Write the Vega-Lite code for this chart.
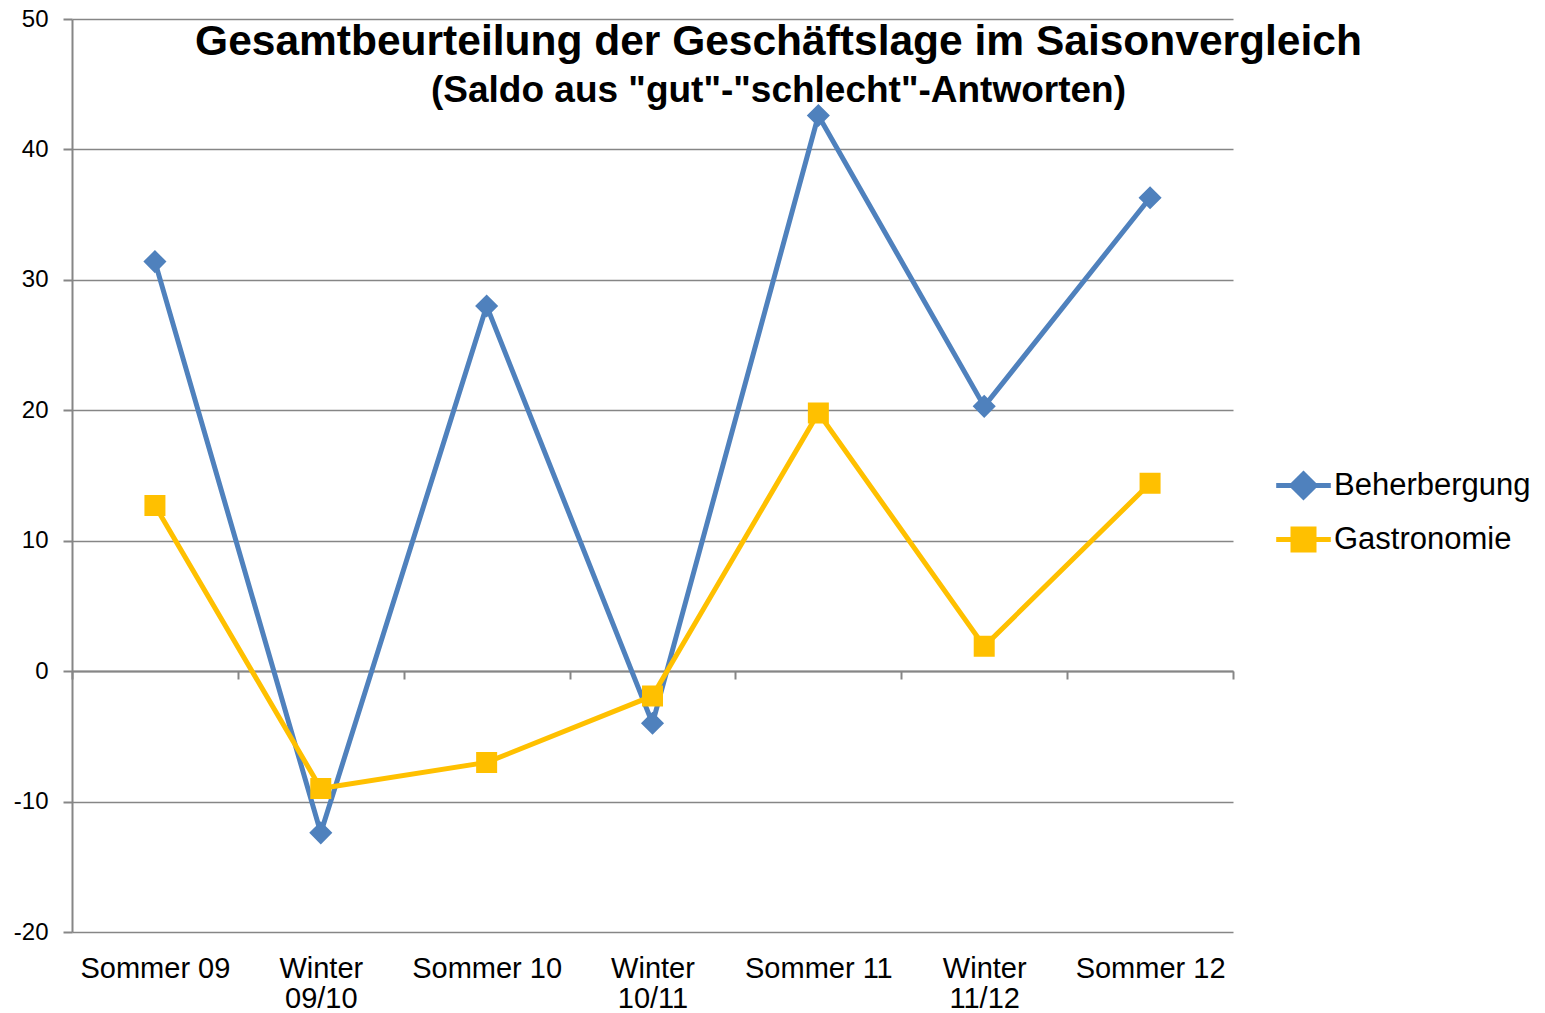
{
  "$schema": "https://vega.github.io/schema/vega-lite/v6.json",
  "width": 1161,
  "height": 913,
  "autosize": {"type": "none"},
  "padding": {"left": 72, "top": 19, "right": 312, "bottom": 81},
  "background": "white",
  "config": {"view": {"stroke": null}, "font": "Liberation Sans"},
  "title": {
    "text": "Gesamtbeurteilung der Geschäftslage im Saisonvergleich",
    "subtitle": "(Saldo aus \"gut\"-\"schlecht\"-Antworten)",
    "anchor": "middle",
    "frame": "group",
    "dx": 126,
    "offset": -102,
    "font": "Liberation Sans",
    "fontSize": 42.5,
    "fontWeight": "bold",
    "color": "black",
    "subtitleFont": "Liberation Sans",
    "subtitleFontSize": 37,
    "subtitleFontWeight": "bold",
    "subtitleColor": "black",
    "subtitlePadding": 10
  },
  "data": {
    "values": [
      {"saison": "Sommer 09", "bereich": "Beherbergung", "saldo": 31.4},
      {"saison": "Winter 09/10", "bereich": "Beherbergung", "saldo": -12.4},
      {"saison": "Sommer 10", "bereich": "Beherbergung", "saldo": 28.0},
      {"saison": "Winter 10/11", "bereich": "Beherbergung", "saldo": -4.0},
      {"saison": "Sommer 11", "bereich": "Beherbergung", "saldo": 42.6},
      {"saison": "Winter 11/12", "bereich": "Beherbergung", "saldo": 20.3},
      {"saison": "Sommer 12", "bereich": "Beherbergung", "saldo": 36.3},
      {"saison": "Sommer 09", "bereich": "Gastronomie", "saldo": 12.7},
      {"saison": "Winter 09/10", "bereich": "Gastronomie", "saldo": -9.0},
      {"saison": "Sommer 10", "bereich": "Gastronomie", "saldo": -7.0},
      {"saison": "Winter 10/11", "bereich": "Gastronomie", "saldo": -1.9},
      {"saison": "Sommer 11", "bereich": "Gastronomie", "saldo": 19.8},
      {"saison": "Winter 11/12", "bereich": "Gastronomie", "saldo": 1.9},
      {"saison": "Sommer 12", "bereich": "Gastronomie", "saldo": 14.4}
    ]
  },
  "encoding": {
    "x": {
      "field": "saison",
      "type": "nominal",
      "sort": ["Sommer 09", "Winter 09/10", "Sommer 10", "Winter 10/11", "Sommer 11", "Winter 11/12", "Sommer 12"],
      "scale": {"type": "band", "paddingInner": 0, "paddingOuter": 0},
      "axis": {
        "title": null,
        "orient": "bottom",
        "offset": -261,
        "domainColor": "#868686",
        "domainWidth": 2,
        "tickColor": "#868686",
        "tickWidth": 2,
        "tickSize": 8,
        "tickBand": "extent",
        "labelPadding": 275,
        "labelFontSize": 29,
        "labelFont": "Liberation Sans",
        "labelColor": "black",
        "labelAngle": 0,
        "labelLimit": 0,
        "labelLineHeight": 30,
        "labelExpr": "indexof(datum.label, 'Winter') == 0 ? ['Winter', substring(datum.label, 7)] : datum.label",
        "grid": false
      }
    },
    "y": {
      "field": "saldo",
      "type": "quantitative",
      "scale": {"domain": [-20, 50], "nice": false, "zero": false},
      "axis": {
        "title": null,
        "values": [-20, -10, 0, 10, 20, 30, 40, 50],
        "labelExpr": "toString(datum.value)",
        "domainColor": "#868686",
        "domainWidth": 2,
        "tickColor": "#868686",
        "tickWidth": 2,
        "tickSize": 9,
        "labelPadding": 15,
        "labelFontSize": 24,
        "labelFont": "Liberation Sans",
        "labelColor": "black",
        "grid": true,
        "gridColor": "#868686",
        "gridWidth": 1.5
      }
    }
  },
  "layer": [
    {
      "mark": {"type": "line", "strokeWidth": 5},
      "encoding": {
        "color": {
          "field": "bereich",
          "type": "nominal",
          "scale": {"domain": ["Beherbergung", "Gastronomie"], "range": ["#4F81BD", "#FFC000"]}
        }
      }
    },
    {
      "mark": {"type": "point", "filled": true, "opacity": 1, "size": 441, "strokeWidth": 0},
      "encoding": {
        "color": {
          "field": "bereich",
          "type": "nominal",
          "scale": {"domain": ["Beherbergung", "Gastronomie"], "range": ["#4F81BD", "#FFC000"]},
          "legend": {
            "title": null,
            "orient": "none",
            "legendX": 1216,
            "legendY": 451,
            "symbolSize": 441,
            "symbolStrokeWidth": 5,
            "labelFontSize": 31,
            "labelFont": "Liberation Sans",
            "labelColor": "black",
            "labelLimit": 0,
            "labelOffset": 15,
            "rowPadding": 11,
            "padding": 0,
            "encode": {
              "symbols": {
                "update": {
                  "strokeWidth": {"value": 5}
                }
              }
            }
          }
        },
        "shape": {
          "field": "bereich",
          "type": "nominal",
          "scale": {
            "domain": ["Beherbergung", "Gastronomie"],
            "range": ["M-2.6,0H2.6M0,-1.1L1.1,0L0,1.1L-1.1,0Z", "M-2.6,0H2.6M-1,-1H1V1H-1Z"]
          }
        }
      }
    }
  ]
}
